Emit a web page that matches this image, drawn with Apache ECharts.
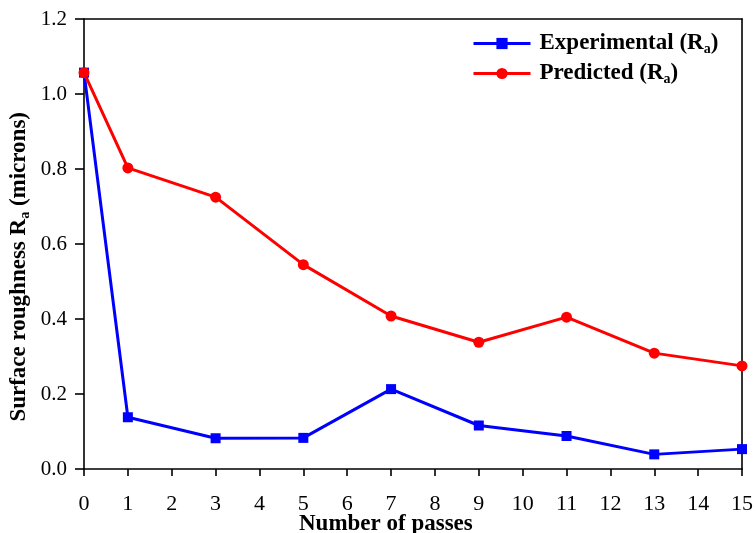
<!DOCTYPE html>
<html>
<head>
<meta charset="utf-8">
<script src="https://cdn.jsdelivr.net/npm/echarts@6/dist/echarts.min.js"></script>
<style>
  html, body { margin: 0; padding: 0; background: #fff; }
  #chart { width: 756px; height: 533px; }
</style>
</head>
<body>
<div id="chart"></div>
<script>
// Number of passes and surface roughness Ra (microns)
const passes = [0, 1, 3, 5, 7, 9, 11, 13, 15];
const experimental = [1.057, 0.138, 0.082, 0.083, 0.213, 0.116, 0.088, 0.039, 0.053];
const predicted = [1.057, 0.803, 0.725, 0.545, 0.408, 0.338, 0.405, 0.309, 0.275];
const xTicks = { min: 0, max: 15, interval: 1 };
const yTicks = { min: 0, max: 1.2, interval: 0.2 };

const FONT = '"Liberation Serif", "Times New Roman", serif';
const pairs = (xs, ys) => xs.map((x, i) => [x, ys[i]]);

const legendRich = {
  t: { fontFamily: FONT, fontWeight: 'bold', fontSize: 23, color: '#000', lineHeight: 26 },
  s: { fontFamily: FONT, fontWeight: 'bold', fontSize: 14, color: '#000', lineHeight: 26, padding: [11, 0, 0, 0] }
};

const chart = echarts.init(document.getElementById('chart'), null, { renderer: 'canvas' });
chart.setOption({
  animation: false,
  backgroundColor: '#fff',
  grid: { left: 84, right: 10, top: 19, bottom: 64, containLabel: false },
  legend: {
    left: 472, top: 31, padding: 0,
    orient: 'vertical',
    itemWidth: 57, itemHeight: 14, itemGap: 5,
    data: ['Experimental', 'Predicted'],
    formatter: name => `{t|${name} (R}{s|a}{t|)}`,
    lineStyle: { width: 3 },
    textStyle: { rich: legendRich, padding: [0, 0, 0, 4] }
  },
  xAxis: [{
    type: 'value', position: 'bottom', offset: 9,
    min: xTicks.min, max: xTicks.max, interval: xTicks.interval,
    axisLine: { lineStyle: { color: '#000', width: 1.6 } },
    axisTick: { inside: false, length: 7, lineStyle: { color: '#000', width: 1.6 } },
    axisLabel: { fontFamily: FONT, fontSize: 22, color: '#000', margin: 15 },
    splitLine: { show: false }
  }, {
    type: 'value', position: 'top',
    min: xTicks.min, max: xTicks.max,
    axisLine: { show: true, onZero: false, lineStyle: { color: '#000', width: 1.6 } },
    axisTick: { show: false }, axisLabel: { show: false }, splitLine: { show: false }
  }],
  yAxis: [{
    type: 'value', position: 'left',
    min: yTicks.min, max: yTicks.max, interval: yTicks.interval,
    axisLine: { show: true, onZero: false, lineStyle: { color: '#000', width: 1.6 } },
    axisTick: { show: true, inside: false, length: 9, lineStyle: { color: '#000', width: 1.6 } },
    axisLabel: { fontFamily: FONT, fontSize: 21, color: '#000', margin: 17, formatter: v => v.toFixed(1) },
    splitLine: { show: false }
  }, {
    type: 'value', position: 'right',
    min: yTicks.min, max: yTicks.max,
    axisLine: { show: true, onZero: false, lineStyle: { color: '#000', width: 1.6 } },
    axisTick: { show: false }, axisLabel: { show: false }, splitLine: { show: false }
  }],
  graphic: [{
    type: 'text',
    left: 7, top: 112,
    rotation: Math.PI / 2,
    style: {
      text: '{t|Surface roughness R}{s|a}{t| (microns)}',
      rich: {
        t: { fontFamily: FONT, fontWeight: 'bold', fontSize: 23, fill: '#000', lineHeight: 27 },
        s: { fontFamily: FONT, fontWeight: 'bold', fontSize: 14, fill: '#000', lineHeight: 27, padding: [11, 0, 0, 0] }
      }
    }
  }, {
    type: 'text',
    left: 299, top: 513,
    style: { text: 'Number of passes', fontFamily: FONT, fontWeight: 'bold', fontSize: 23, fill: '#000' }
  }],
  series: [{
    name: 'Experimental',
    type: 'line',
    data: pairs(passes, experimental),
    symbol: 'rect', symbolSize: 10,
    clip: false,
    itemStyle: { color: '#0000ff' },
    lineStyle: { color: '#0000ff', width: 3 }
  }, {
    name: 'Predicted',
    type: 'line',
    data: pairs(passes, predicted),
    symbol: 'circle', symbolSize: 11,
    clip: false,
    itemStyle: { color: '#ff0000' },
    lineStyle: { color: '#ff0000', width: 3 }
  }]
});
</script>
</body>
</html>
